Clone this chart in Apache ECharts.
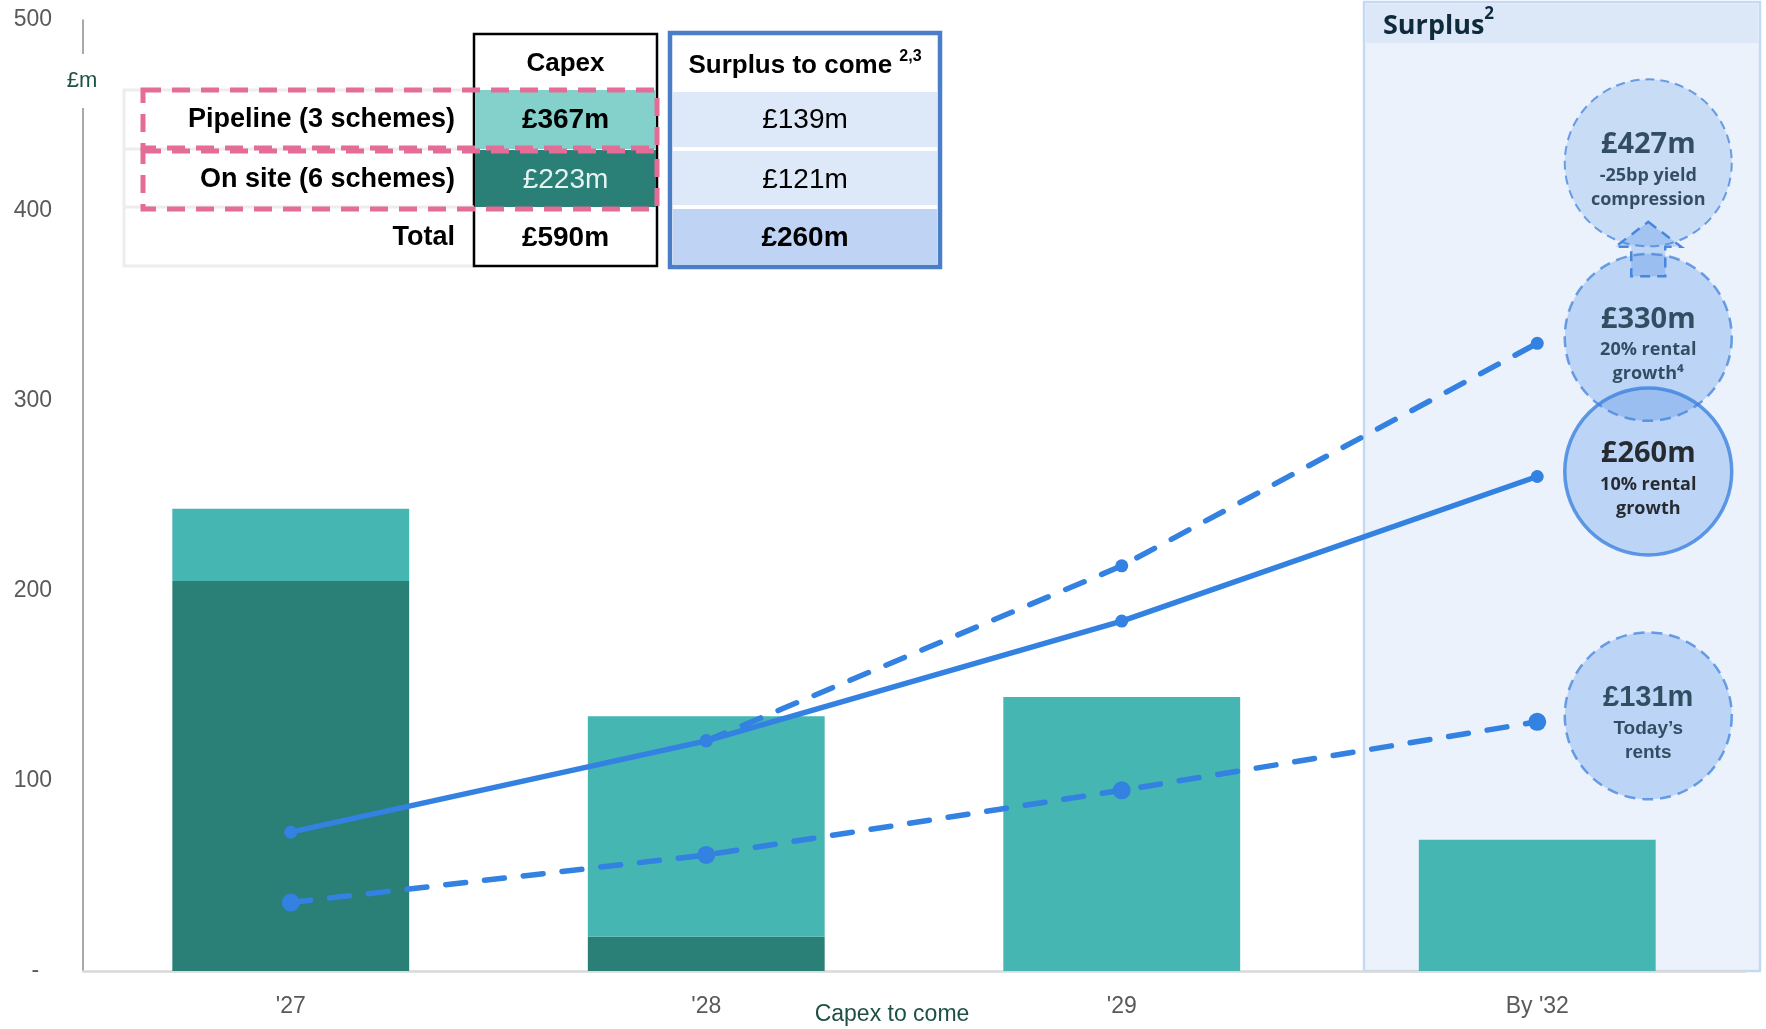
<!DOCTYPE html>
<html><head><meta charset="utf-8">
<script src="https://cdn.jsdelivr.net/npm/echarts@6/dist/echarts.min.js"></script>
<style>html,body{margin:0;padding:0;background:#fff}#c{width:1766px;height:1029px}</style>
</head><body><div id="c"></div>
<script>
// ---------- data ----------
const categories = ["'27", "'28", "'29", "By '32"];
const onSite = [205, 18, 0, 0];
const pipeline = [38, 116, 144, 69];
const surplus10 = [73, 121, 184, 260];
const surplus20 = [null, 121, 213, 330];
const todaysRents = [36, 61, 95, 131];
const yMin = 0, yMax = 500, yStep = 100;
const bubbleValues = [427, 330, 260, 131];
const bubbleTitles = ['£427m', '£330m', '£260m', '£131m'];
const bubbleNotes = [['-25bp yield', 'compression'], ['20% rental', 'growth⁴'], ['10% rental', 'growth'], ["Today’s", 'rents']];
const tableRows = ['Pipeline (3 schemes)', 'On site (6 schemes)', 'Total'];
const capexCol = ['£367m', '£223m', '£590m'];
const surplusCol = ['£139m', '£121m', '£260m'];
const headers = ['Capex', 'Surplus to come '];
const headerNote = '2,3';
const surplusTitle = 'Surplus';
const surplusNote = '2';
const axisNameY = '£m';
const axisNameX = 'Capex to come';

// ---------- styles ----------
const SANS = '"Liberation Sans", Arial, sans-serif';
const SEGOE = '"Open Sans", "Noto Sans", sans-serif';
const BLUE = '#3381E1';
const TEAL = '#45B6B2';
const DARK = '#2A7F77';
const NAVY = '#0E2A3D';

const chart = echarts.init(document.getElementById('c'));

const bubbleStyles = [
  {color: 'rgba(58,129,224,0.24)', borderColor: '#4A88DF', borderWidth: 2, borderType: [9, 6]},
  {color: 'rgba(58,129,224,0.33)', borderColor: '#4A88DF', borderWidth: 2.5, borderType: [11, 7]},
  {color: 'rgba(58,129,224,0.33)', borderColor: '#3C82E0', borderWidth: 3.5, borderType: 'solid'},
  {color: 'rgba(58,129,224,0.33)', borderColor: '#4A88DF', borderWidth: 2.5, borderType: [11, 7]}
];
const bubbleShiftY = [4, -6, -5, -6];

function bubbleData() {
  return bubbleValues.map((v, i) => {
    const narrow = i === 3;
    const col = i === 2 ? '#000' : NAVY;
    return {
      value: [3, v],
      symbolOffset: [111, bubbleShiftY[i]],
      itemStyle: bubbleStyles[i],
      label: {
        show: true,
        position: 'inside',
        offset: [0, 6],
        formatter: '{t|' + bubbleTitles[i] + '}\n' + bubbleNotes[i].map(s => '{n|' + s + '}').join('\n'),
        rich: {
          t: {fontFamily: narrow ? SANS : SEGOE, fontWeight: 'bold', fontSize: narrow ? 29 : 29, color: col, lineHeight: 38, align: 'center'},
          n: {fontFamily: narrow ? SANS : SEGOE, fontWeight: 'bold', fontSize: narrow ? 19 : 18, color: col, lineHeight: 24, align: 'center'}
        }
      }
    };
  });
}

// ---------- table graphic ----------
const tx = {l: 124, c0: 474, c1: 657, s0: 670, s1: 940};
const ty = {top: 34, r: [90, 149, 207, 266]};
function txt(x, y, s, opts) {
  return {type: 'text', z: 100, x: x, y: y, style: Object.assign({text: s, fill: '#000', align: 'center', verticalAlign: 'middle', fontFamily: SANS, fontSize: 28}, opts || {})};
}
const tableG = [];
tableG.push({type: 'rect', z: 90, shape: {x: tx.l, y: ty.r[0], width: tx.c0 - tx.l, height: ty.r[3] - ty.r[0]}, style: {fill: '#fff', stroke: '#EDEDED', lineWidth: 3}});
[1, 2].forEach(k => tableG.push({type: 'line', z: 91, shape: {x1: tx.l, y1: ty.r[k], x2: tx.c0, y2: ty.r[k]}, style: {stroke: '#EDEDED', lineWidth: 3}}));
tableG.push({type: 'rect', z: 90, shape: {x: tx.c0, y: ty.top, width: tx.c1 - tx.c0, height: ty.r[3] - ty.top}, style: {fill: '#fff', stroke: '#000', lineWidth: 2.5}});
tableG.push({type: 'rect', z: 91, shape: {x: tx.c0 + 1, y: ty.r[0], width: tx.c1 - tx.c0 - 2, height: ty.r[1] - ty.r[0]}, style: {fill: '#84D0CB'}});
tableG.push({type: 'rect', z: 91, shape: {x: tx.c0 + 1, y: ty.r[1] + 1, width: tx.c1 - tx.c0 - 2, height: ty.r[2] - ty.r[1] - 1}, style: {fill: DARK}});
tableG.push({type: 'rect', z: 90, shape: {x: tx.s0, y: ty.top - 1, width: tx.s1 - tx.s0, height: ty.r[3] - ty.top + 2}, style: {fill: '#fff', stroke: '#4A7EC6', lineWidth: 4.5}});
tableG.push({type: 'rect', z: 91, shape: {x: tx.s0 + 3, y: ty.r[0] + 2, width: tx.s1 - tx.s0 - 6, height: 55}, style: {fill: '#DDE9F9'}});
tableG.push({type: 'rect', z: 91, shape: {x: tx.s0 + 3, y: ty.r[1] + 2, width: tx.s1 - tx.s0 - 6, height: 54}, style: {fill: '#DDE9F9'}});
tableG.push({type: 'rect', z: 91, shape: {x: tx.s0 + 3, y: ty.r[2] + 2, width: tx.s1 - tx.s0 - 6, height: 56}, style: {fill: '#BFD4F4'}});
const cxC = (tx.c0 + tx.c1) / 2, cxS = (tx.s0 + tx.s1) / 2;
const rowMid = [120, 180, 238];
tableG.push(txt(cxC, 64, headers[0], {fontWeight: 'bold', fontSize: 26}));
tableG.push(txt(cxS, 64, '{h|' + headers[1] + '}{s|' + headerNote + '}', {
  fontWeight: 'bold', fontSize: 26,
  rich: {h: {fontFamily: SANS, fontWeight: 'bold', fontSize: 26, lineHeight: 30, verticalAlign: 'bottom'},
         s: {fontFamily: SANS, fontWeight: 'bold', fontSize: 16, lineHeight: 30, verticalAlign: 'top'}}
}));
tableRows.forEach((r, i) => tableG.push(txt(455, rowMid[i], r, {fontWeight: 'bold', align: 'right', fontSize: 27})));
capexCol.forEach((v, i) => tableG.push(txt(cxC, rowMid[i], v, {fontWeight: i === 1 ? 'normal' : 'bold', fill: i === 1 ? '#E6F3F1' : '#000', fontSize: 28})));
surplusCol.forEach((v, i) => tableG.push(txt(cxS, rowMid[i], v, {fontWeight: i === 2 ? 'bold' : 'normal', fontSize: 28})));
tableG.push({type: 'rect', z: 95, shape: {x: 143, y: 90, width: 514, height: 58}, style: {fill: 'none', stroke: '#E46C96', lineWidth: 5, lineDash: [18, 11]}});
tableG.push({type: 'rect', z: 95, shape: {x: 143, y: 151, width: 514, height: 58}, style: {fill: 'none', stroke: '#E46C96', lineWidth: 5, lineDash: [18, 11]}});

// surplus panel
const panelG = [
  {type: 'rect', z: 0, shape: {x: 1364, y: 2, width: 396, height: 969}, style: {fill: '#EBF2FC', stroke: '#C6D9F3', lineWidth: 2.5}},
  {type: 'rect', z: 0, shape: {x: 1366, y: 4, width: 392, height: 39}, style: {fill: '#DCE8F8'}},
  {type: 'text', z: 1, x: 1383, y: 23, style: {
    text: '{a|' + surplusTitle + '}{b|' + surplusNote + '}', align: 'left', verticalAlign: 'middle',
    rich: {a: {fill: NAVY, fontFamily: SEGOE, fontWeight: 'bold', fontSize: 27, lineHeight: 34, verticalAlign: 'bottom'},
           b: {fill: NAVY, fontFamily: SEGOE, fontWeight: 'bold', fontSize: 17, lineHeight: 34, verticalAlign: 'top'}}
  }}
];
const axisG = [
  {type: 'text', z: 50, x: 82, y: 81, style: {text: axisNameY, fill: '#1F5247', fontFamily: SANS, fontSize: 22, align: 'center', verticalAlign: 'middle', backgroundColor: '#fff', padding: [16, 3]}},
  {type: 'text', z: 50, x: 892, y: 1015, style: {text: axisNameX, fill: '#1E5045', fontFamily: SANS, fontSize: 23, align: 'center', verticalAlign: 'middle'}}
];

const lineCommon = {type: 'line', z: 4, symbol: 'circle', color: BLUE, itemStyle: {color: BLUE}};

const option = {
  animation: false,
  grid: {left: 83, right: 21, top: 20, bottom: 58},
  xAxis: {
    type: 'category', data: categories,
    axisLine: {lineStyle: {color: '#D9D9D9', width: 2.5}}, axisTick: {show: false},
    axisLabel: {color: '#595959', fontSize: 23, fontFamily: SANS, margin: 24}
  },
  yAxis: {
    type: 'value', min: yMin, max: yMax, interval: yStep,
    axisLine: {show: true, lineStyle: {color: '#8C8C8C', width: 1.5}}, axisTick: {show: false},
    splitLine: {show: false},
    axisLabel: {color: '#595959', fontSize: 23, fontFamily: SANS, margin: 31, formatter: v => v === 0 ? '-  ' : String(v)}
  },
  series: [
    {name: 'On site', type: 'bar', stack: 'capex', data: onSite, barWidth: '57%', itemStyle: {color: DARK}, z: 2},
    {name: 'Pipeline', type: 'bar', stack: 'capex', data: pipeline, barWidth: '57%', itemStyle: {color: TEAL}, z: 2},
    Object.assign({}, lineCommon, {name: '20% rental growth', data: surplus20, symbolSize: 13, lineStyle: {color: BLUE, width: 5.5, type: [20, 19], cap: 'round'}}),
    Object.assign({}, lineCommon, {name: 'Today\u2019s rents', data: todaysRents, symbolSize: 18, lineStyle: {color: BLUE, width: 5.5, type: [20, 19], cap: 'round'}}),
    Object.assign({}, lineCommon, {name: '10% rental growth', data: surplus10, symbolSize: 13, lineStyle: {color: BLUE, width: 5.5, type: 'solid'}}),
    {name: 'Surplus bubbles', type: 'scatter', z: 6, symbol: 'circle', symbolSize: 167, data: bubbleData(), silent: true}
  ],
  graphic: panelG.concat(axisG, tableG)
};
chart.setOption(option);

// arrow between the two upper bubbles, placed from the axis scales
const cx = chart.convertToPixel({xAxisIndex: 0}, 3) + 111;
const yTop = chart.convertToPixel({yAxisIndex: 0}, bubbleValues[0]);
const yMid = chart.convertToPixel({yAxisIndex: 0}, bubbleValues[1]);
const tipY = yTop + 63, baseY = tipY + 25, botY = yMid - 67;
chart.setOption({graphic: panelG.concat(axisG, tableG, [{
  type: 'polygon', z: 1,
  shape: {points: [[cx, tipY], [cx + 33, baseY], [cx + 17, baseY], [cx + 17, botY], [cx - 17, botY], [cx - 17, baseY], [cx - 33, baseY]]},
  style: {fill: 'rgba(58,129,224,0.26)', stroke: '#4A88DF', lineWidth: 2.5, lineDash: [10, 7]}
}])});
</script>
</body></html>
